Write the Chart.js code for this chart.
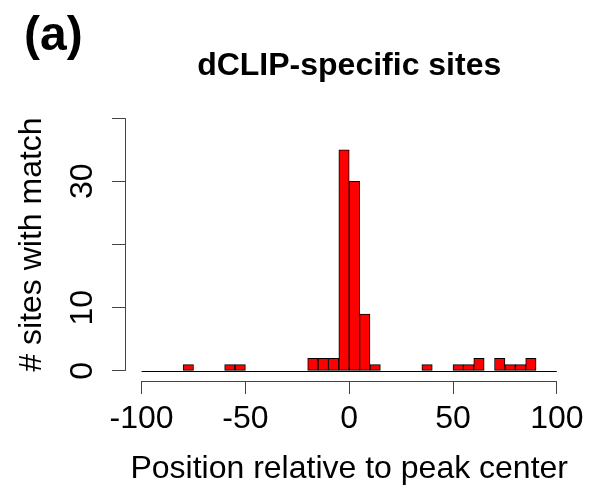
<html>
<head>
    <meta charset="UTF-8">
    <title>dCLIP-specific sites</title>
    <script src="https://cdn.jsdelivr.net/npm/chart.js"></script>
    <style>
        body { margin: 0; background: #fff; }
    </style>
</head>
<body>
    <canvas id="histChart" width="590" height="493"></canvas>

    <script>
        // histogram bins (left edge, width 5) and counts
        const binStarts = [-100, -95, -90, -85, -80, -75, -70, -65, -60, -55,
                           -50, -45, -40, -35, -30, -25, -20, -15, -10, -5,
                             0,   5,  10,  15,  20,  25,  30,  35,  40,  45,
                            50,  55,  60,  65,  70,  75,  80,  85,  90,  95];
        const siteCounts = [0, 0, 0, 0, 1, 0, 0, 0, 1, 1,
                            0, 0, 0, 0, 0, 0, 2, 2, 2, 35,
                            30, 9, 1, 0, 0, 0, 0, 1, 0, 0,
                            1, 1, 2, 0, 2, 1, 1, 2, 0, 0];
        const binWidth = 5;
        const xTicks = [-100, -50, 0, 50, 100];
        const yTicks = [0, 10, 20, 30, 40];
        const yTickLabels = [0, 10, 30];   // R drops 20 and 40 (overlap)

        const FONT = "'Liberation Sans', Arial, Helvetica, sans-serif";

        // axes, zero line, rotated y labels and titles drawn R-style
        const rStyle = {
            id: 'rStyle',
            beforeDatasetsDraw(chart) {
                const { ctx, scales: { x, y } } = chart;
                ctx.save();
                ctx.strokeStyle = '#000';
                ctx.lineWidth = 1;
                ctx.beginPath();
                const y0 = Math.round(y.getPixelForValue(0)) + 0.5;
                ctx.moveTo(x.getPixelForValue(binStarts[0]), y0);
                ctx.lineTo(x.getPixelForValue(binStarts[binStarts.length - 1] + binWidth), y0);
                ctx.stroke();
                ctx.restore();
            },
            afterDraw(chart) {
                const { ctx, chartArea, scales: { x, y } } = chart;
                ctx.save();
                ctx.strokeStyle = '#444';
                ctx.lineWidth = 1;
                // y axis line
                const ax = Math.round(chartArea.left) + 0.5;
                ctx.beginPath();
                ctx.moveTo(ax, y.getPixelForValue(yTicks[0]));
                ctx.lineTo(ax, y.getPixelForValue(yTicks[yTicks.length - 1]));
                ctx.stroke();
                // x axis line
                const ay = Math.round(chartArea.bottom) + 0.5;
                ctx.beginPath();
                ctx.moveTo(x.getPixelForValue(xTicks[0]), ay);
                ctx.lineTo(x.getPixelForValue(xTicks[xTicks.length - 1]), ay);
                ctx.stroke();

                // y tick labels, rotated
                ctx.fillStyle = '#000';
                ctx.font = '32px ' + FONT;
                ctx.textAlign = 'center';
                ctx.textBaseline = 'alphabetic';
                yTickLabels.forEach(v => {
                    ctx.save();
                    ctx.translate(92, y.getPixelForValue(v));
                    ctx.rotate(-Math.PI / 2);
                    ctx.fillText(String(v), 0, 0);
                    ctx.restore();
                });

                // main title over the plot region
                ctx.font = 'bold 32px ' + FONT;
                ctx.fillText('dCLIP-specific sites', (chartArea.left + chartArea.right) / 2, 75);

                // panel letter
                ctx.textAlign = 'left';
                ctx.font = 'bold 48px ' + FONT;
                ctx.fillText('(a)', 24, 50);
                ctx.restore();
            }
        };

        const ctx = document.getElementById('histChart').getContext('2d');
        const histChart = new Chart(ctx, {
            type: 'bar',
            data: {
                datasets: [{
                    data: binStarts.map((s, i) => ({ x: s + binWidth / 2, y: siteCounts[i] })),
                    backgroundColor: '#ff0000',
                    borderColor: '#000',
                    borderWidth: 1,
                    borderSkipped: false,
                    barPercentage: 1,
                    categoryPercentage: 1
                }]
            },
            options: {
                responsive: false,
                animation: false,
                layout: { padding: { left: 0, right: 13, top: 108, bottom: 0 } },
                plugins: {
                    legend: { display: false },
                    tooltip: { enabled: false }
                },
                scales: {
                    x: {
                        type: 'linear',
                        min: -108,
                        max: 108,
                        offset: false,
                        afterBuildTicks: s => { s.ticks = xTicks.map(v => ({ value: v })); },
                        afterFit: s => { s.height = 112; },
                        grid: { drawOnChartArea: false, offset: false, tickLength: 13, color: '#444' },
                        border: { display: false },
                        ticks: {
                            font: { family: FONT, size: 32 },
                            color: '#000',
                            padding: 6,
                            maxRotation: 0,
                            autoSkip: false
                        },
                        title: {
                            display: true,
                            text: 'Position relative to peak center',
                            font: { family: FONT, size: 32 },
                            color: '#000',
                            padding: { top: 0, bottom: 5 }
                        }
                    },
                    y: {
                        min: -1.6,
                        max: 41.6,
                        afterBuildTicks: s => { s.ticks = yTicks.map(v => ({ value: v })); },
                        afterFit: s => { s.width = 125; },
                        grid: { drawOnChartArea: false, tickLength: 13, color: '#444' },
                        border: { display: false },
                        ticks: { display: false },
                        title: {
                            display: true,
                            text: '# sites with match',
                            font: { family: FONT, size: 32 },
                            color: '#000',
                            padding: { top: 13, bottom: 0 }
                        }
                    }
                }
            },
            plugins: [rStyle]
        });
    </script>
</body>
</html>
